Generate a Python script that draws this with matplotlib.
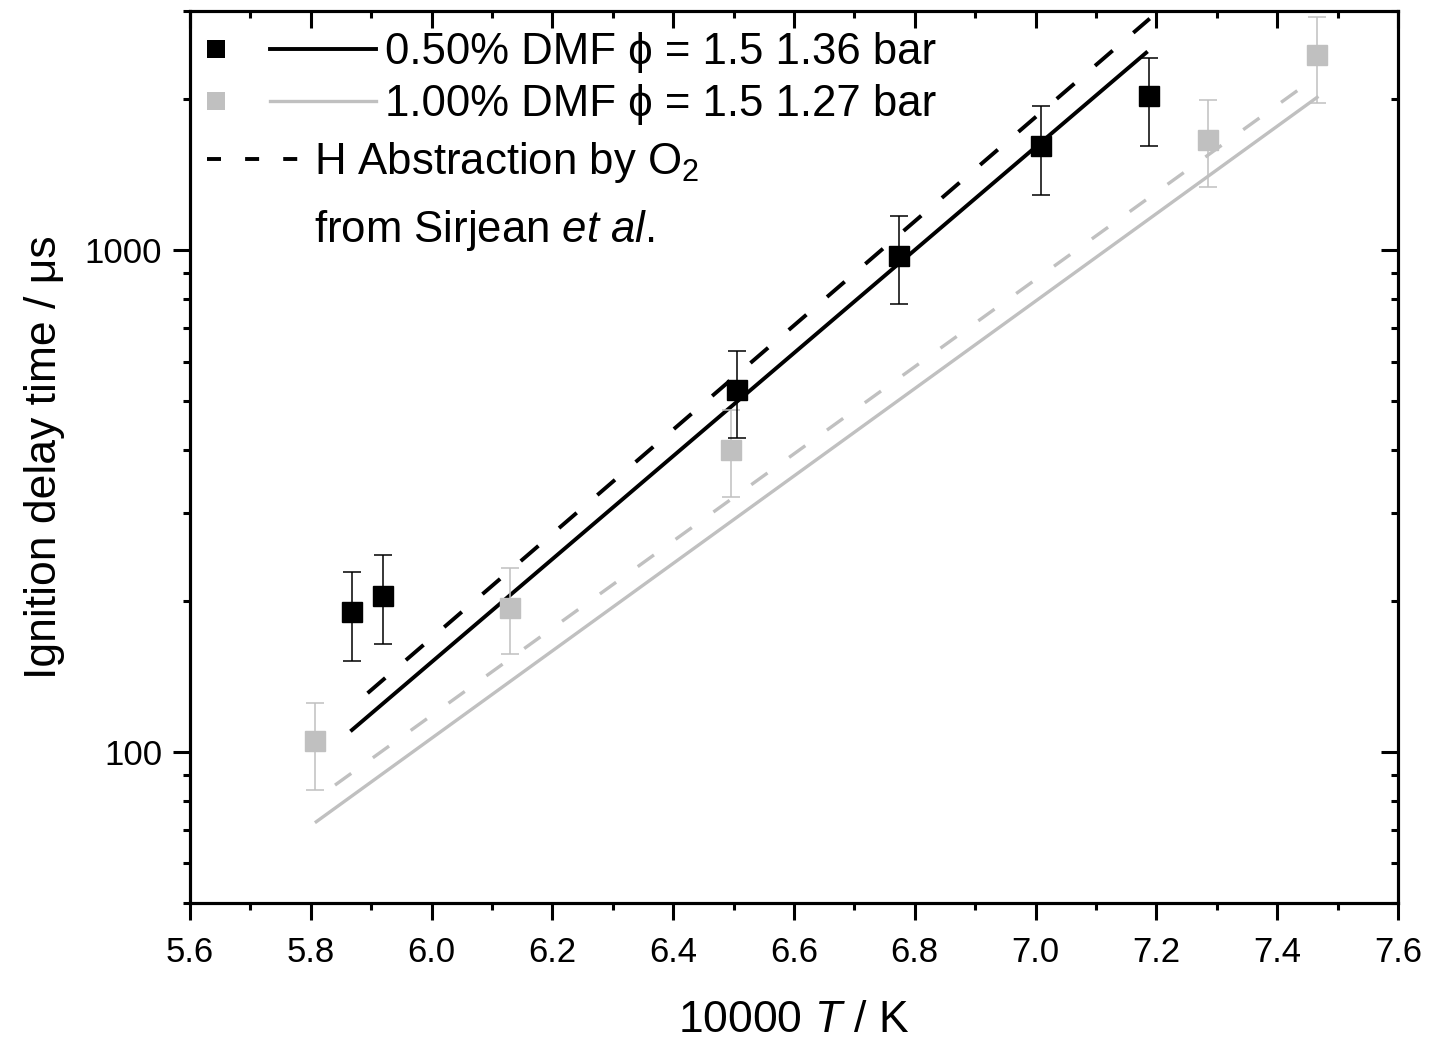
import matplotlib
matplotlib.use("Agg")
import matplotlib.pyplot as plt
from matplotlib.lines import Line2D
from matplotlib.ticker import MultipleLocator, LogLocator, NullFormatter, FuncFormatter

plt.rcParams['font.family'] = ['Liberation Sans', 'DejaVu Sans']
plt.rcParams['mathtext.fontset'] = 'custom'
plt.rcParams['mathtext.rm'] = 'Liberation Sans'
plt.rcParams['mathtext.it'] = 'Liberation Sans:italic'

# measured data, 0.50% DMF (black)
x_blk = [5.868, 5.919, 6.506, 6.774, 7.009, 7.188]
y_blk = [190, 205, 526, 973, 1618, 2028]
lo_blk = [152, 164, 422, 780, 1292, 1611]
hi_blk = [228, 247, 630, 1170, 1937, 2413]

# measured data, 1.00% DMF (grey)
x_gry = [5.807, 6.130, 6.496, 7.285, 7.466]
y_gry = [105, 194, 400, 1663, 2446]
lo_gry = [84, 157, 322, 1335, 1963]
hi_gry = [125, 233, 480, 1990, 2924]

# model lines (straight in log space, end points)
fit_blk_x = [5.868, 7.183]
fit_blk_y = [110.6, 2477]
habs_blk_x = [5.894, 7.189]
habs_blk_y = [131, 2897]
fit_gry_x = [5.809, 7.466]
fit_gry_y = [72.6, 2018]
habs_gry_x = [5.84, 7.466]
habs_gry_y = [85.9, 2222]

# legend text
leg_labels = ['0.50% DMF ϕ = 1.5 1.36 bar', '1.00% DMF ϕ = 1.5 1.27 bar']

gray = '#c0c0c0'
blk_dash = (6, 7)
gry_dash = (6, 8)

fig = plt.figure(figsize=(14.3, 10.39), dpi=100)
ax = fig.add_axes([0.1329, 0.1309, 0.8447, 0.8585])

ax.plot(fit_gry_x, fit_gry_y, color=gray, lw=2.4)
ax.plot(habs_gry_x, habs_gry_y, color=gray, lw=2.4, dashes=gry_dash)
ax.plot(fit_blk_x, fit_blk_y, color='black', lw=2.8)
ax.plot(habs_blk_x, habs_blk_y, color='black', lw=2.8, dashes=blk_dash)

yerr_g = [[y - l for y, l in zip(y_gry, lo_gry)], [h - y for y, h in zip(y_gry, hi_gry)]]
ax.errorbar(x_gry, y_gry, yerr=yerr_g, fmt='s', color=gray, ms=14, mec=gray,
            ecolor=gray, elinewidth=1.1, capsize=6.5, capthick=1.1, zorder=5)
yerr_b = [[y - l for y, l in zip(y_blk, lo_blk)], [h - y for y, h in zip(y_blk, hi_blk)]]
ax.errorbar(x_blk, y_blk, yerr=yerr_b, fmt='s', color='black', ms=14, mec='black',
            ecolor='black', elinewidth=1.1, capsize=6.5, capthick=1.1, zorder=6)

ax.set_yscale('log')
ax.set_xlim(5.6, 7.6)
ax.set_ylim(50, 3000)

ax.xaxis.set_major_locator(MultipleLocator(0.2))
ax.xaxis.set_minor_locator(MultipleLocator(0.1))
ax.xaxis.set_major_formatter(FuncFormatter(lambda v, p: f"{v:.1f}"))
ax.yaxis.set_major_locator(LogLocator(base=10, numticks=10))
ax.yaxis.set_minor_locator(LogLocator(base=10, subs=range(2, 10), numticks=20))
ax.yaxis.set_major_formatter(FuncFormatter(lambda v, p: f"{v:g}"))
ax.yaxis.set_minor_formatter(NullFormatter())

for s in ax.spines.values():
    s.set_linewidth(2.2)

ax.tick_params(which='both', direction='out', top=False, right=False, labelsize=25, width=2.2)
ax.tick_params(axis='x', which='major', length=12, pad=12)
ax.tick_params(axis='y', which='major', length=12, pad=8)
ax.tick_params(which='minor', length=5)

# inside ticks on top and right
axt = ax.twiny()
axt.set_xlim(ax.get_xlim())
axt.xaxis.set_major_locator(MultipleLocator(0.2))
axt.xaxis.set_minor_locator(MultipleLocator(0.1))
axt.tick_params(which='both', direction='in', labeltop=False, width=2.2)
axt.tick_params(which='major', length=12)
axt.tick_params(which='minor', length=5)
axr = ax.twinx()
axr.set_yscale('log')
axr.set_ylim(ax.get_ylim())
axr.yaxis.set_major_locator(LogLocator(base=10, numticks=10))
axr.yaxis.set_minor_locator(LogLocator(base=10, subs=range(2, 10), numticks=20))
axr.yaxis.set_minor_formatter(NullFormatter())
axr.tick_params(which='both', direction='in', labelright=False, width=2.2)
axr.tick_params(which='major', length=12)
axr.tick_params(which='minor', length=5)
for a in (axt, axr):
    for s in a.spines.values():
        s.set_linewidth(2.2)

ax.set_xlabel('10000 $T$ / K', fontsize=32, labelpad=22)
ax.set_ylabel('Ignition delay time / μs', fontsize=32, labelpad=14)

# hand-built legend, positions in pixels of the axes box
def fx(px):
    return (px - 190) / 1208

def fy(py):
    return (903 - py) / 891

T = ax.transAxes
leg_fs = 31.5
styles = [('black', 2.8, 65), (gray, 2.4, 117)]
for lab, (col, lw, base) in zip(leg_labels, styles):
    ym = fy(base - 15)
    ax.add_line(Line2D([fx(216)], [ym], marker='s', ms=13, mew=0, color=col, transform=T))
    ax.add_line(Line2D([fx(270), fx(376)], [ym, ym], lw=lw, color=col, transform=T))
    ax.text(fx(385), fy(base), lab, transform=T, fontsize=leg_fs, va='baseline')
ax.add_line(Line2D([fx(207), fx(304)], [fy(160), fy(160)], lw=2.8, color='black',
                   dashes=(3.6, 6.2), transform=T))
ax.text(fx(314), fy(175), 'H Abstraction by O$_2$', transform=T, fontsize=leg_fs, va='baseline')
ax.text(fx(314), fy(243), 'from Sirjean $et\\ al.$', transform=T, fontsize=leg_fs, va='baseline')

fig.savefig('out.png', dpi=100)
